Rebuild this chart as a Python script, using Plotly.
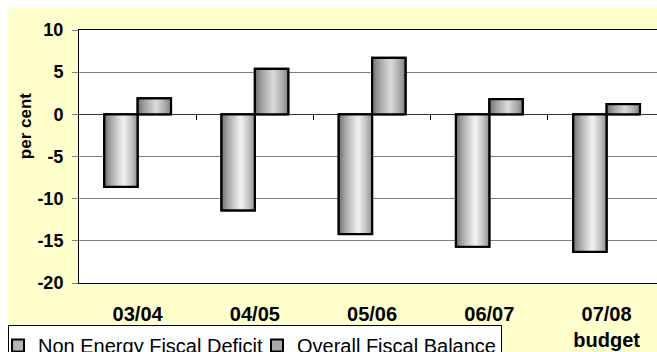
import plotly.graph_objects as go

# Fiscal indicators by fiscal year (per cent)
categories = ["03/04", "04/05", "05/06", "06/07", "07/08<br>budget"]
non_energy_deficit = [-8.6, -11.4, -14.2, -15.7, -16.3]
overall_balance = [1.9, 5.4, 6.7, 1.8, 1.2]
y_ticks = [10, 5, 0, -5, -10, -15, -20]
y_tick_labels = ["10", "5", "0", "-5", "-10", "-15", "-20"]

FONT = "Liberation Sans, Arial, sans-serif"
BAR_W = 0.285          # width of one bar in category units
STEPS = 14             # shading steps per half bar


def hex_to_rgb(h):
    h = h.lstrip("#")
    return tuple(int(h[i:i + 2], 16) for i in (0, 2, 4))


def blend(c1, c2, t):
    a, b = hex_to_rgb(c1), hex_to_rgb(c2)
    return "rgb({},{},{})".format(*[round(x + (y - x) * t) for x, y in zip(a, b)])


def shaded_series(values, left, edge_l, mid, edge_r, name, hl=0.58):
    """Bars with a cylinder-like horizontal shading, built from nested strips."""
    traces = []
    # legend carrier / base bar
    traces.append(go.Bar(
        x=categories, y=values, width=BAR_W, offset=left, name=name,
        marker=dict(color=blend(edge_l, mid, 0.55), line=dict(color="black", width=2)),
        hoverinfo="skip"))
    h = left + BAR_W * hl
    L, R = BAR_W * hl, BAR_W * (1 - hl)
    for k in range(STEPS):
        t = k / STEPS
        s = (t ** 0.7)
        # left half
        wl = L * (1 - t)
        traces.append(go.Bar(
            x=categories, y=values, width=wl + 0.004, offset=h - wl,
            marker=dict(color=blend(edge_l, mid, s), line=dict(width=0)),
            showlegend=False, hoverinfo="skip"))
        # right half
        wr = R * (1 - t)
        traces.append(go.Bar(
            x=categories, y=values, width=wr, offset=h,
            marker=dict(color=blend(edge_r, mid, s), line=dict(width=0)),
            showlegend=False, hoverinfo="skip"))
    # outline on top
    traces.append(go.Bar(
        x=categories, y=values, width=BAR_W, offset=left,
        marker=dict(color="rgba(0,0,0,0)", line=dict(color="black", width=2.2)),
        showlegend=False, hovertemplate=name + ": %{y}<extra></extra>"))
    return traces


fig = go.Figure()
for tr in shaded_series(non_energy_deficit, -BAR_W, "#6a6a6a", "#f4f4f4", "#8a8a8a",
                        "Non Energy Fiscal Deficit"):
    fig.add_trace(tr)
for tr in shaded_series(overall_balance, 0.0, "#6a6a6a", "#dcdcdc", "#7a7a7a",
                        "Overall Fiscal Balance", hl=0.55):
    fig.add_trace(tr)

# carrier for the boundary tick marks along the zero line
fig.add_trace(go.Scatter(x=[], y=[], xaxis="x2", showlegend=False, hoverinfo="skip"))

x_range = [-0.5, 4.43]

fig.update_layout(
    width=657, height=352, autosize=False,
    margin=dict(l=79, r=0, t=30, b=69, autoexpand=False),
    paper_bgcolor="#FFFFCC", plot_bgcolor="white",
    barmode="overlay",
    font=dict(family=FONT, color="black"),
    xaxis=dict(
        type="category", range=x_range, showgrid=False, zeroline=False,
        showline=True, linecolor="black", linewidth=1, mirror=True,
        ticks="", tickfont=dict(family=FONT, size=20, weight="bold"),
        ticklabelstandoff=13, automargin=False,
    ),
    xaxis2=dict(
        overlaying="x", anchor="free", position=2 / 3, type="linear",
        range=x_range, tickmode="array",
        tickvals=[i + 0.5 for i in range(len(categories))],
        ticks="outside", ticklen=5, tickcolor="black", tickwidth=1,
        showticklabels=False, showgrid=False, zeroline=False, showline=False,
        automargin=False,
    ),
    yaxis=dict(
        range=[-20, 10], tickmode="array", tickvals=y_ticks, ticktext=y_tick_labels,
        showgrid=True, gridcolor="#7f7f7f", gridwidth=1,
        zeroline=True, zerolinecolor="#333333", zerolinewidth=1,
        showline=True, linecolor="black", linewidth=1,
        ticks="outside", ticklen=6, tickcolor="#7f7f7f",
        tickfont=dict(family=FONT, size=18, weight="bold"),
        ticklabelstandoff=5, automargin=False,
    ),
    legend=dict(
        orientation="h", x=-0.1228, xanchor="left", y=-0.166, yanchor="top",
        bgcolor="white", bordercolor="black", borderwidth=1,
        font=dict(family=FONT, size=20), indentation=-11,
        itemwidth=30, tracegroupgap=0,
    ),
    annotations=[dict(
        text="per cent", xref="paper", yref="paper", x=-0.0934, y=0.62,
        textangle=-90, showarrow=False, xanchor="center", yanchor="middle",
        font=dict(family=FONT, size=17, weight="bold"),
    )],
    shapes=[
        dict(type="rect", xref="paper", yref="paper", x0=-0.2, x1=-0.1228,
             y0=-0.4, y1=1.2, fillcolor="white", line=dict(width=0), layer="below"),
        dict(type="rect", xref="paper", yref="paper", x0=-0.2, x1=1.1,
             y0=1.0909, y1=1.2, fillcolor="white", line=dict(width=0), layer="below"),
    ],
)

fig.write_html("out.html")
